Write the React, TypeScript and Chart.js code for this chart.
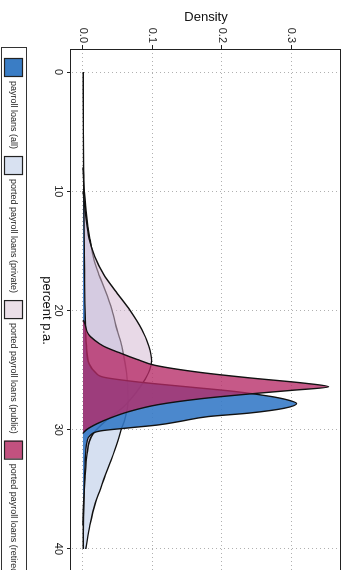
import React, { useEffect, useRef } from "react";
import { Chart, registerables } from "chart.js";

Chart.register(...registerables);

const FONT = "'Liberation Sans', Arial, Helvetica, sans-serif";

// ---- data ----
const seriesLabels = [
  "payroll loans (all)",
  "ported payroll loans (private)",
  "ported payroll loans (public)",
  "ported payroll loans (retired)",
];

const xTicks = [0, 10, 20, 30, 40];
const yTicks = [0, 0.1, 0.2, 0.3];
const xTitle = "percent p.a.";
const yTitle = "Density";

const allX = [0, 5, 10, 15, 20, 23, 24.5, 25.2, 25.6, 26, 26.4, 26.8, 27.2, 27.5, 27.8, 28.2, 28.6, 28.9, 29.3, 29.6, 29.85, 30.1, 30.5, 31, 33, 36, 40];
const allY = [0.0003, 0.0005, 0.001, 0.002, 0.003, 0.005, 0.009, 0.018, 0.03, 0.08, 0.15, 0.22, 0.27, 0.295, 0.308, 0.29, 0.24, 0.18, 0.14, 0.108, 0.065, 0.025, 0.01, 0.006, 0.003, 0.001, 0.0003];

const privX = [8, 10, 12, 14, 15.8, 17, 18.3, 20, 21.6, 23, 24.5, 26, 27.5, 29.2, 30, 31, 32.5, 34, 35, 36.1, 38, 40];
const privY = [0, 0.002, 0.005, 0.01, 0.016, 0.023, 0.032, 0.042, 0.049, 0.056, 0.061, 0.064, 0.065, 0.06, 0.055, 0.05, 0.041, 0.031, 0.025, 0.018, 0.01, 0.004];

const pubX = [10, 12, 14, 15.5, 17, 18.3, 20, 21.6, 23, 24.2, 25, 26.1, 27, 28.1, 29.2, 30.3, 31, 32, 34, 36, 38];
const pubY = [0, 0.004, 0.009, 0.017, 0.03, 0.046, 0.068, 0.085, 0.095, 0.099, 0.096, 0.086, 0.075, 0.058, 0.034, 0.015, 0.009, 0.006, 0.003, 0.001, 0];

const retX = [20.8, 21, 22, 22.5, 23, 23.6, 24.1, 24.6, 25.2, 25.65, 26.1, 26.4, 26.7, 27, 27.4, 27.9, 28.5, 29, 29.5, 30, 30.3];
const retY = [0, 0.002, 0.008, 0.017, 0.03, 0.055, 0.078, 0.104, 0.17, 0.24, 0.32, 0.354, 0.3, 0.24, 0.17, 0.108, 0.065, 0.04, 0.02, 0.005, 0];

// ---- styles ----
const fillColors = [
  "rgba(50,120,198,0.88)",
  "rgba(214,224,241,1)",
  "rgba(214,186,212,0.55)",
  "rgba(182,42,102,0.78)",
];
const legendColors = ["#3a7dc5", "#d8e1f1", "#ebdfe8", "#c2517f"];
const drawOrder = [2, 4, 3, 1];

const W = 580;
const H = 350;

export default function App() {
  const ref = useRef<HTMLCanvasElement | null>(null);

  useEffect(() => {
    const canvas = ref.current;
    if (!canvas) return;
    const xs = [allX, privX, pubX, retX];
    const ys = [allY, privY, pubY, retY];
    const datasets = seriesLabels.map((label, i) => ({
      label,
      data: xs[i].map((x, j) => ({ x, y: ys[i][j] })),
      backgroundColor: fillColors[i],
      borderColor: "#111",
      borderWidth: 1.4,
      fill: "origin",
      pointRadius: 0,
      cubicInterpolationMode: "monotone",
      order: drawOrder[i],
    }));

    const framePlugin = {
      id: "frameLegend",
      afterDraw(chart: any) {
        const { ctx, chartArea: a } = chart;
        ctx.save();
        ctx.strokeStyle = "#222";
        ctx.lineWidth = 1;
        ctx.strokeRect(
          Math.round(a.left) + 0.5,
          Math.round(a.top) + 0.5,
          Math.round(a.right - a.left),
          Math.round(a.bottom - a.top)
        );
        // legend frame
        ctx.strokeStyle = "#333";
        ctx.strokeRect(47.5, 323.5, chart.width, 25);
        ctx.font = `9px ${FONT}`;
        ctx.textBaseline = "middle";
        let cx = 58;
        seriesLabels.forEach((lab, i) => {
          ctx.fillStyle = legendColors[i];
          ctx.fillRect(cx, 327.5, 18, 18);
          ctx.strokeStyle = "#222";
          ctx.lineWidth = 1.2;
          ctx.strokeRect(cx + 0.5, 327.5, 18, 18);
          ctx.fillStyle = "#222";
          ctx.fillText(lab, cx + 23, 337);
          cx += 23 + ctx.measureText(lab).width + 7;
        });
        ctx.restore();
      },
    };

    const chart = new Chart(canvas, {
      type: "line",
      data: { datasets: datasets as any },
      options: {
        animation: false,
        responsive: false,
        devicePixelRatio: 1,
        layout: { padding: { top: 9, right: 8, bottom: 27, left: 0 } },
        plugins: { legend: { display: false }, tooltip: { enabled: false } },
        scales: {
          x: {
            type: "linear",
            min: -1.93,
            max: 41.93,
            afterBuildTicks: (s: any) => {
              s.ticks = xTicks.map((v) => ({ value: v }));
            },
            afterFit: (s: any) => {
              s.height = 44;
            },
            ticks: {
              font: { size: 11, family: FONT },
              color: "#222",
              padding: 2,
              maxRotation: 0,
            },
            grid: {
              color: "#b0b0b0",
              lineWidth: 1,
              drawTicks: true,
              tickLength: 4,
              tickColor: "#222",
            },
            border: { display: false, dash: [1, 3] },
            title: {
              display: true,
              text: xTitle,
              font: { size: 13, family: FONT },
              color: "#111",
              padding: { top: 0, bottom: 12 },
            },
          },
          y: {
            type: "linear",
            min: -0.0173,
            max: 0.372,
            afterBuildTicks: (s: any) => {
              s.ticks = yTicks.map((v) => ({ value: v }));
            },
            afterFit: (s: any) => {
              s.width = 49;
            },
            ticks: {
              font: { size: 11, family: FONT },
              color: "#222",
              padding: 2,
              callback: (v: any) => Number(v).toFixed(1),
            },
            grid: {
              color: "#b0b0b0",
              lineWidth: 1,
              drawTicks: true,
              tickLength: 4,
              tickColor: "#222",
            },
            border: { display: false, dash: [1, 3] },
            title: {
              display: true,
              text: yTitle,
              font: { size: 13, family: FONT },
              color: "#111",
              padding: { top: 10, bottom: 0 },
            },
          },
        },
      },
      plugins: [framePlugin],
    });
    return () => chart.destroy();
  }, []);

  return (
    <div
      style={{
        position: "fixed",
        left: 0,
        top: 0,
        width: 350,
        height: 570,
        overflow: "hidden",
        background: "#fff",
      }}
    >
      <div
        style={{
          position: "absolute",
          left: 0,
          top: 0,
          width: W,
          height: H,
          transformOrigin: "0 0",
          transform: "translate(350px, 0) rotate(90deg)",
        }}
      >
        <canvas ref={ref} width={W} height={H} style={{ display: "block" }} />
      </div>
    </div>
  );
}
